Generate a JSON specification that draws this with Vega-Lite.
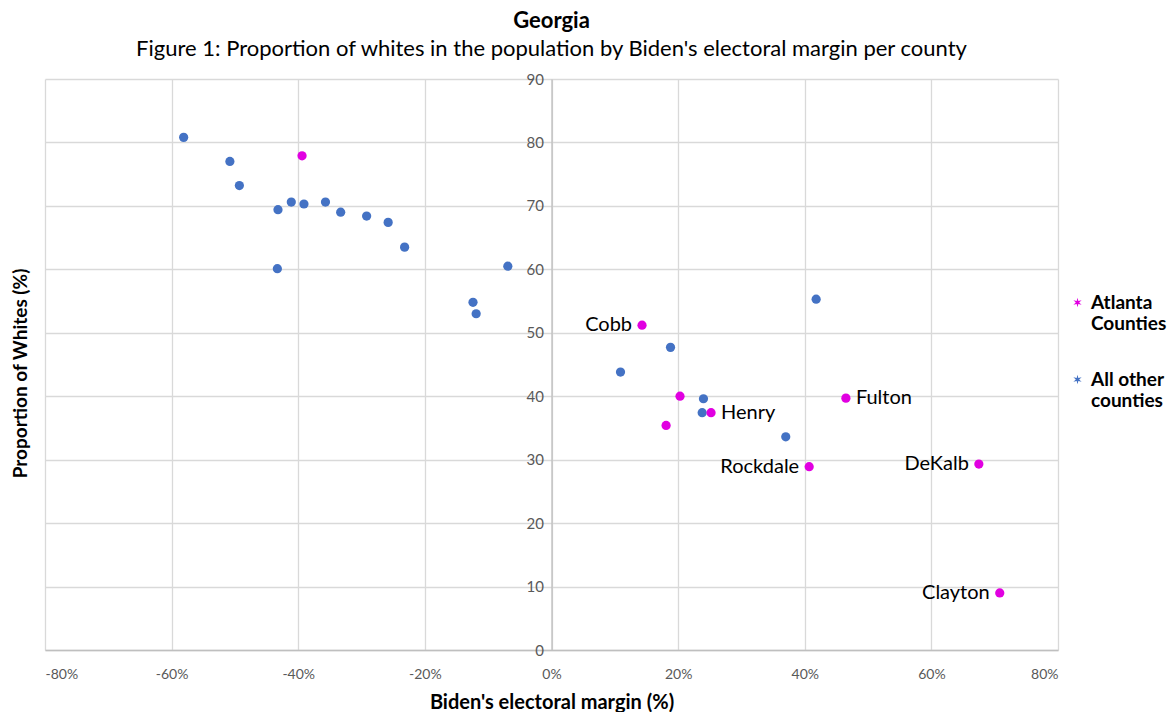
{
  "$schema": "https://vega.github.io/schema/vega-lite/v6.json",
  "width": 1013,
  "height": 571,
  "autosize": {"type": "none"},
  "padding": {"left": 45, "top": 79, "right": 117, "bottom": 62},
  "background": "white",
  "config": {"font": "Lato", "view": {"stroke": null}},
  "title": {
    "text": "Georgia",
    "subtitle": "Figure 1:  Proportion of whites in the population by Biden's electoral margin per county",
    "anchor": "middle",
    "fontSize": 22,
    "fontWeight": "bold",
    "color": "#000000",
    "subtitleFontSize": 22,
    "subtitleColor": "#000000",
    "subtitlePadding": 6,
    "offset": 11
  },
  "data": {
    "values": [
      {"margin": -58.1, "white": 80.8, "group": "All other counties", "name": ""},
      {"margin": -50.8, "white": 77.0, "group": "All other counties", "name": ""},
      {"margin": -49.3, "white": 73.2, "group": "All other counties", "name": ""},
      {"margin": -43.2, "white": 69.4, "group": "All other counties", "name": ""},
      {"margin": -41.1, "white": 70.6, "group": "All other counties", "name": ""},
      {"margin": -39.1, "white": 70.3, "group": "All other counties", "name": ""},
      {"margin": -35.7, "white": 70.6, "group": "All other counties", "name": ""},
      {"margin": -33.3, "white": 69.0, "group": "All other counties", "name": ""},
      {"margin": -29.2, "white": 68.4, "group": "All other counties", "name": ""},
      {"margin": -25.8, "white": 67.4, "group": "All other counties", "name": ""},
      {"margin": -23.2, "white": 63.5, "group": "All other counties", "name": ""},
      {"margin": -43.3, "white": 60.1, "group": "All other counties", "name": ""},
      {"margin": -6.9, "white": 60.5, "group": "All other counties", "name": ""},
      {"margin": -12.4, "white": 54.8, "group": "All other counties", "name": ""},
      {"margin": -11.9, "white": 53.0, "group": "All other counties", "name": ""},
      {"margin": 18.8, "white": 47.7, "group": "All other counties", "name": ""},
      {"margin": 10.9, "white": 43.8, "group": "All other counties", "name": ""},
      {"margin": 24.0, "white": 39.6, "group": "All other counties", "name": ""},
      {"margin": 23.8, "white": 37.4, "group": "All other counties", "name": ""},
      {"margin": 37.0, "white": 33.6, "group": "All other counties", "name": ""},
      {"margin": 41.8, "white": 55.3, "group": "All other counties", "name": ""},
      {"margin": -39.4, "white": 77.9, "group": "Atlanta Counties", "name": ""},
      {"margin": 14.3, "white": 51.2, "group": "Atlanta Counties", "name": "Cobb"},
      {"margin": 20.3, "white": 40.0, "group": "Atlanta Counties", "name": ""},
      {"margin": 25.2, "white": 37.4, "group": "Atlanta Counties", "name": "Henry"},
      {"margin": 18.1, "white": 35.4, "group": "Atlanta Counties", "name": ""},
      {"margin": 40.7, "white": 28.9, "group": "Atlanta Counties", "name": "Rockdale"},
      {"margin": 46.5, "white": 39.7, "group": "Atlanta Counties", "name": "Fulton"},
      {"margin": 67.5, "white": 29.3, "group": "Atlanta Counties", "name": "DeKalb"},
      {"margin": 70.8, "white": 9.0, "group": "Atlanta Counties", "name": "Clayton"}
    ]
  },
  "encoding": {
    "x": {
      "field": "margin",
      "type": "quantitative",
      "scale": {"domain": [-80, 80], "nice": false, "zero": false},
      "axis": {
        "values": [-80, -60, -40, -20, 0, 20, 40, 60, 80],
        "labelExpr": "datum.value + '%'",
        "title": "Biden's electoral margin (%)",
        "titleFontSize": 20,
        "titleFontWeight": "bold",
        "titleColor": "#000000",
        "titlePadding": 11,
        "labelFontSize": 14,
        "labelColor": "#595959",
        "labelPadding": 17,
        "ticks": false,
        "grid": true,
        "gridColor": "#d9d9d9",
        "gridWidth": 1.3,
        "domainColor": "#bfbfbf",
        "domainWidth": 1.3
      }
    },
    "y": {
      "field": "white",
      "type": "quantitative",
      "scale": {"domain": [0, 90], "nice": false, "zero": true},
      "axis": {
        "values": [0, 10, 20, 30, 40, 50, 60, 70, 80, 90],
        "offset": -506.5,
        "title": "Proportion of Whites (%)",
        "titleFontSize": 19,
        "titleFontWeight": "bold",
        "titleColor": "#000000",
        "titleX": -531,
        "titleY": 294,
        "titleAngle": -90,
        "titleAlign": "center",
        "titleBaseline": "middle",
        "labelFontSize": 15,
        "labelColor": "#595959",
        "labelPadding": 8,
        "ticks": false,
        "grid": true,
        "gridColor": "#d9d9d9",
        "gridWidth": 1.3,
        "domainColor": "#bfbfbf",
        "domainWidth": 1.3
      }
    }
  },
  "layer": [
    {
      "mark": {"type": "point", "filled": true, "opacity": 1, "size": 85},
      "encoding": {
        "color": {
          "field": "group",
          "type": "nominal",
          "scale": {"domain": ["Atlanta Counties", "All other counties"], "range": ["#E100E1", "#4472C4"]},
          "legend": {
            "orient": "none",
            "legendX": 1023,
            "legendY": 214,
            "title": null,
            "symbolType": "M0,-1L0.175,-0.303L0.866,-0.5L0.35,0L0.866,0.5L0.175,0.303L0,1L-0.175,0.303L-0.866,0.5L-0.35,0L-0.866,-0.5L-0.175,-0.303Z",
            "symbolSize": 90,
            "symbolStrokeWidth": 0,
            "labelFontSize": 19,
            "labelFontWeight": "bold",
            "labelColor": "#000000",
            "labelExpr": "datum.label == 'Atlanta Counties' ? ['Atlanta', 'Counties'] : ['All other', 'counties']",
            "labelLimit": 200,
            "labelOffset": 4,
            "rowPadding": 36
          }
        }
      }
    },
    {
      "transform": [{"filter": {"field": "name", "oneOf": ["Cobb", "Rockdale", "DeKalb", "Clayton"]}}],
      "mark": {"type": "text", "align": "right", "baseline": "middle", "dx": -10, "fontSize": 20, "color": "#000000"},
      "encoding": {"text": {"field": "name", "type": "nominal"}}
    },
    {
      "transform": [{"filter": {"field": "name", "oneOf": ["Henry", "Fulton"]}}],
      "mark": {"type": "text", "align": "left", "baseline": "middle", "dx": 10, "fontSize": 20, "color": "#000000"},
      "encoding": {"text": {"field": "name", "type": "nominal"}}
    }
  ]
}
